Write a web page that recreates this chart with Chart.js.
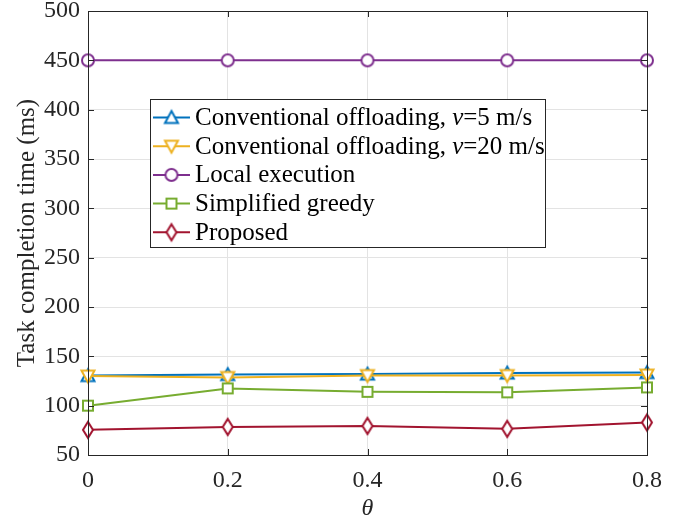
<!DOCTYPE html>
<html>
<head>
<meta charset="utf-8">
<script src="https://cdn.jsdelivr.net/npm/chart.js@4/dist/chart.umd.min.js"></script>
<style>
  html, body { margin: 0; padding: 0; background: #fff; }
  #wrap { width: 691px; height: 523px; }
</style>
</head>
<body>
<div id="wrap"><canvas id="chart" width="691" height="523"></canvas></div>
<script>
const thetas = [0, 0.2, 0.4, 0.6, 0.8];
const conv5 = [130.5, 131.5, 132, 133, 133.5];
const conv20 = [130, 128.5, 130.5, 130.5, 131];
const localExec = [450, 450, 450, 450, 450];
const greedy = [100, 117.5, 114, 113.5, 118.5];
const proposed = [75.5, 78.5, 79.5, 76.5, 83];
const yTicks = [50, 100, 150, 200, 250, 300, 350, 400, 450, 500];

const seriesNames = [
    'Conventional offloading, v=5 m/s',
    'Conventional offloading, v=20 m/s',
    'Local execution',
    'Simplified greedy',
    'Proposed'
];
const colors = ['#0072BD', '#EDB120', '#7E2F8E', '#77AC30', '#A2142F'];
const shapes = ['up', 'down', 'circle', 'square', 'diamond'];
const values = [conv5, conv20, localExec, greedy, proposed];

const AXIS = '#262626';
const FONT = "'Liberation Serif', 'Times New Roman', serif";

// little marker images, white fill, coloured outline
function makeMarker(kind, color) {
    const c = document.createElement('canvas');
    c.width = 22; c.height = 22;
    const g = c.getContext('2d');
    g.strokeStyle = color;
    g.fillStyle = '#fff';
    g.lineWidth = 2;
    g.lineJoin = 'miter';
    g.beginPath();
    if (kind === 'up') {
        g.moveTo(11, 4.5); g.lineTo(17.5, 16.5); g.lineTo(4.5, 16.5); g.closePath();
    } else if (kind === 'down') {
        g.moveTo(4.5, 5.5); g.lineTo(17.5, 5.5); g.lineTo(11, 17.5); g.closePath();
    } else if (kind === 'circle') {
        g.arc(11, 11, 6, 0, Math.PI * 2);
    } else if (kind === 'square') {
        g.rect(6, 6, 10, 10);
    } else {
        g.moveTo(11, 3); g.lineTo(16, 11); g.lineTo(11, 19); g.lineTo(6, 11); g.closePath();
    }
    g.fill();
    g.stroke();
    return c;
}

const markers = shapes.map((s, i) => makeMarker(s, colors[i]));

const datasets = values.map((arr, i) => ({
    label: seriesNames[i],
    data: thetas.map((x, j) => ({ x: x, y: arr[j] })),
    borderColor: colors[i],
    backgroundColor: colors[i],
    borderWidth: 2,
    pointStyle: markers[i],
    pointRadius: 7,
    pointHoverRadius: 7,
    tension: 0,
    clip: false,
    order: 5 - i
}));

// box, inward ticks and the legend inside the plot
const matlabLook = {
    id: 'matlabLook',
    afterDatasetsDraw(chart) {
        const ctx = chart.ctx;
        const a = chart.chartArea;
        const xs = chart.scales.x, ys = chart.scales.y;
        ctx.save();
        ctx.strokeStyle = AXIS;
        ctx.lineWidth = 1;
        ctx.beginPath();
        thetas.forEach(t => {
            const px = Math.round(xs.getPixelForValue(t)) + 0.5;
            ctx.moveTo(px, a.bottom); ctx.lineTo(px, a.bottom - 6);
            ctx.moveTo(px, a.top); ctx.lineTo(px, a.top + 6);
        });
        yTicks.forEach(v => {
            const py = Math.round(ys.getPixelForValue(v)) + 0.5;
            ctx.moveTo(a.left, py); ctx.lineTo(a.left + 6, py);
            ctx.moveTo(a.right, py); ctx.lineTo(a.right - 6, py);
        });
        ctx.stroke();
        ctx.strokeRect(Math.round(a.left) + 0.5, Math.round(a.top) + 0.5,
            Math.round(a.right - a.left), Math.round(a.bottom - a.top));

        // legend
        const bx = 150.5, by = 99.5, bw = 395, bh = 148;
        ctx.fillStyle = '#fff';
        ctx.fillRect(bx, by, bw, bh);
        ctx.strokeRect(bx, by, bw, bh);
        ctx.textBaseline = 'middle';
        seriesNames.forEach((name, i) => {
            const cy = 117.5 + i * 28.7;
            ctx.strokeStyle = colors[i];
            ctx.lineWidth = 2;
            ctx.beginPath();
            ctx.moveTo(153, cy); ctx.lineTo(190, cy);
            ctx.stroke();
            ctx.drawImage(markers[i], 171.5 - 11, cy - 11);
            let x = 195;
            name.split(/(\bv(?==))/).forEach(part => {
                if (!part) return;
                ctx.font = (part === 'v' ? 'italic ' : '') + '25px ' + FONT;
                ctx.fillStyle = '#000';
                ctx.fillText(part, x, cy + 1);
                x += ctx.measureText(part).width;
            });
        });
        ctx.restore();
    }
};

new Chart(document.getElementById('chart'), {
    type: 'line',
    data: { datasets: datasets },
    options: {
        responsive: false,
        animation: false,
        events: [],
        layout: { padding: { left: 0, top: 11, right: 44, bottom: 0 } },
        plugins: { legend: { display: false }, tooltip: { enabled: false } },
        scales: {
            x: {
                type: 'linear',
                min: 0,
                max: 0.8,
                afterBuildTicks: s => { s.ticks = thetas.map(v => ({ value: v })); },
                afterFit: s => { s.height = 68; s.paddingLeft = 0; s.paddingRight = 0; },
                border: { display: false },
                grid: { color: '#e3e3e3', drawTicks: false },
                ticks: {
                    padding: 11,
                    color: '#262626',
                    font: { family: FONT, size: 24 },
                    callback: v => String(v)
                },
                title: {
                    display: true,
                    text: 'θ',
                    color: '#262626',
                    font: { family: FONT, size: 24, style: 'italic' },
                    padding: { top: 0, bottom: 0 }
                }
            },
            y: {
                min: 50,
                max: 500,
                afterBuildTicks: s => { s.ticks = yTicks.map(v => ({ value: v })); },
                afterFit: s => { s.width = 88; s.paddingTop = 0; s.paddingBottom = 0; },
                border: { display: false },
                grid: { color: '#e3e3e3', drawTicks: false },
                ticks: {
                    padding: 8,
                    color: '#262626',
                    font: { family: FONT, size: 24 }
                },
                title: {
                    display: true,
                    text: 'Task completion time (ms)',
                    color: '#262626',
                    font: { family: FONT, size: 25 },
                    padding: { top: 12, bottom: 0 }
                }
            }
        }
    },
    plugins: [matlabLook]
});
</script>
</body>
</html>
